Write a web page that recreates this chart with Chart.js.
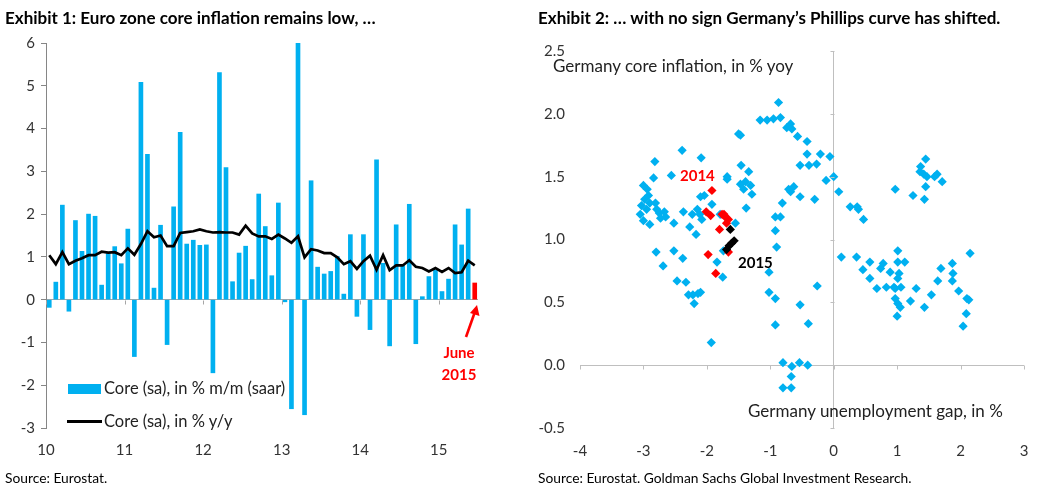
<!DOCTYPE html>
<html>
<head>
<meta charset="utf-8">
<script src="https://cdn.jsdelivr.net/npm/chart.js@4.4.1/dist/chart.umd.min.js"></script>
<style>
html,body{margin:0;padding:0;background:#fff;width:1048px;height:502px;overflow:hidden;font-family:Lato,"Open Sans",sans-serif;color:#000}
.abs{position:absolute;white-space:nowrap;line-height:1}
.title{font-weight:bold;font-size:17px}
.src{font-size:13.8px}
.lgt{font-size:16.5px;color:#222}
.axt{font-size:17px;color:#222}
#w1{position:absolute;left:0;top:0;width:520px;height:502px}
#w2{position:absolute;left:520px;top:0;width:528px;height:502px}
</style>
</head>
<body>
<div id="w1"><canvas id="c1" width="520" height="502"></canvas></div>
<div id="w2"><canvas id="c2" width="528" height="502"></canvas></div>

<div class="abs title" style="left:5px;top:9px">Exhibit 1: Euro zone core inflation remains low, …</div>
<div class="abs title" style="left:538px;top:9px">Exhibit 2: … with no sign Germany’s Phillips curve has shifted.</div>
<div class="abs src" style="left:5px;top:471px">Source: Eurostat.</div>
<div class="abs src" style="left:538px;top:471px">Source: Eurostat. Goldman Sachs Global Investment Research.</div>

<!-- legend exhibit 1 -->
<div class="abs" style="left:68px;top:384px;width:33px;height:10px;background:#00B0F0"></div>
<div class="abs lgt" style="left:104px;top:380px">Core (sa), in % m/m (saar)</div>
<div class="abs" style="left:67px;top:420px;width:35px;height:3px;background:#000"></div>
<div class="abs lgt" style="left:104px;top:413px">Core (sa), in % y/y</div>

<!-- June 2015 annotation -->
<div class="abs" style="left:436px;top:341px;font-size:15px;font-weight:bold;color:#FF0000;text-align:center;width:46px;line-height:22px">June<br>2015</div>
<svg class="abs" style="left:0;top:0" width="520" height="502">
  <line x1="466" y1="337" x2="474.5" y2="313" stroke="#FF0000" stroke-width="2.6"/>
  <polygon points="477,305 479.5,316 470,313" fill="#FF0000"/>
</svg>

<!-- exhibit 2 text -->
<div class="abs axt" style="left:553px;top:57px">Germany core inflation, in % yoy</div>
<div class="abs axt" style="left:748px;top:402px">Germany unemployment gap, in %</div>
<div class="abs" style="left:680px;top:168px;font-size:15px;font-weight:bold;color:#FF0000">2014</div>
<div class="abs" style="left:738px;top:255px;font-size:15px;font-weight:bold;color:#000">2015</div>

<script>
// ---------- Exhibit 1 data ----------
const startYear = 10;           // 2010
const monthsCount = 66;         // Jan 2010 .. Jun 2015
const yearTicks = [10, 11, 12, 13, 14, 15];
const coreMoM = [
  -0.18, 0.41, 2.21, -0.27, 1.85, 1.13, 2.00, 1.95, 0.34, 1.08, 1.24, 0.84,
  1.65, -1.33, 5.08, 3.40, 0.27, 1.74, -1.05, 2.17, 3.91, 1.30, 1.39, 1.27,
  1.28, -1.71, 5.31, 3.09, 0.42, 1.09, 1.25, 0.47, 2.47, 1.71, 0.56, 2.26,
  -0.05, -2.55, 6.02, -2.69, 2.78, 0.76, 0.60, 0.66, 1.01, 0.13, 1.52, -0.39,
  1.52, -0.70, 3.27, 0.85, -1.08, 1.75, 0.80, 2.23, -1.03, 0.07, 0.54, 0.69,
  0.19, 0.48, 1.75, 1.28, 2.12, 0.39
];
const coreYoY = [
  1.04, 0.83, 1.11, 0.83, 0.91, 0.97, 1.04, 1.04, 1.12, 1.10, 1.11, 1.04,
  1.20, 1.05, 1.30, 1.60, 1.46, 1.50, 1.25, 1.25, 1.56, 1.58, 1.60, 1.64,
  1.60, 1.57, 1.58, 1.57, 1.57, 1.52, 1.73, 1.55, 1.48, 1.48, 1.42, 1.52,
  1.43, 1.33, 1.48, 0.99, 1.18, 1.15, 1.09, 1.09, 0.99, 0.83, 0.90, 0.72,
  0.90, 1.03, 0.70, 1.04, 0.69, 0.80, 0.80, 0.92, 0.77, 0.74, 0.66, 0.74,
  0.65, 0.74, 0.62, 0.64, 0.91, 0.80
];

// ---------- Exhibit 2 data ----------
const gapHist = [
  -2.82,-2.39,-2.09,-2.84,-2.56,-3.00,-2.94,-2.92,-2.98,-2.90,-3.03,-2.95,-3.05,-3.00,-2.90,
  -2.81,-2.79,-2.75,-2.67,-2.65,-2.73,-2.52,-2.80,-2.69,-2.52,-2.38,
  -2.47,-2.33,-2.29,-2.22,-2.14,-2.10,-2.20,-1.93,
  -2.37,-2.23,-2.15,-2.11,-2.08,-2.27,-2.17,-2.10,-2.04,-1.92,-1.79,-1.68,
  -1.50,-1.47,-1.46,-1.34,-1.68,-1.47,-1.39,-1.42,-1.31,-1.29,-1.38,-1.55,-1.74,-1.84,-1.75,
  -0.87,-1.16,-1.05,-0.95,-0.84,-0.74,-0.68,-0.66,-0.57,-0.42,-0.42,-0.53,-0.39,-0.27,-0.21,-0.06,-0.12,0.00,0.08,
  -0.71,-0.63,-0.68,-0.53,-0.30,-0.81,-0.92,-0.84,-0.92,-0.90,-1.02,-1.02,-0.92,-0.53,-0.26,-0.92,-0.40,
  -0.80,-0.66,-0.54,-0.41,-0.67,-0.80,-0.67,
  0.12,0.36,0.46,0.57,0.57,0.68,0.74,0.78,
  0.89,0.83,0.95,1.01,1.01,1.12,1.03,1.01,1.06,0.97,0.97,1.01,1.05,1.00,
  1.21,1.30,1.43,1.54,1.64,1.69,1.87,1.88,1.87,1.97,2.10,2.13,2.09,2.04,2.15,
  0.97,1.25,1.45,1.37,1.36,1.42,1.47,1.59,1.63,1.71,1.45,1.43,
  0.26,0.37,0.39,0.47
];
const inflHist = [
  1.62,1.71,1.65,1.49,1.51,1.43,1.40,1.35,1.32,1.29,1.27,1.24,1.20,1.15,1.12,
  1.29,1.24,1.21,1.22,1.18,1.17,1.13,0.90,0.79,0.91,0.85,
  0.67,0.66,0.56,0.56,0.57,0.58,0.49,0.18,
  1.22,1.20,1.24,1.20,1.16,1.10,1.04,1.34,1.35,1.28,1.20,1.50,
  1.84,1.83,1.59,1.54,1.48,1.44,1.46,1.40,1.43,1.36,1.25,1.13,0.91,0.82,0.70,
  2.09,1.95,1.95,1.96,1.97,1.89,1.92,1.88,1.82,1.78,1.68,1.59,1.59,1.60,1.68,1.66,1.47,1.50,1.38,
  1.40,1.42,1.38,1.34,1.32,1.29,1.18,1.18,1.07,0.94,0.74,0.58,0.53,0.48,0.63,0.32,0.33,
  0.02,-0.01,0.02,0.00,-0.09,-0.18,-0.18,
  0.86,0.86,0.76,0.82,0.69,0.61,0.77,0.81,
  0.74,0.62,0.62,0.91,0.82,0.82,0.73,0.69,0.62,0.61,0.53,0.49,0.46,0.39,
  0.51,0.61,0.46,0.56,0.67,0.77,0.81,0.73,0.67,0.59,0.53,0.52,0.41,0.31,0.89,
  1.40,1.35,1.64,1.58,1.54,1.52,1.50,1.50,1.52,1.46,1.42,1.32,
  1.26,1.26,1.24,1.16
];
const gap2014  = [-1.92,-2.01,-1.94,-1.76,-1.73,-1.71,-1.66,-1.80,-1.98,-1.86,-1.66,-1.69];
const infl2014 = [ 1.39, 1.22, 1.19, 1.20, 1.20, 1.18, 1.16, 1.08, 0.88, 0.73, 0.90, 1.13];
const gap2015  = [-1.63,-1.69,-1.65,-1.61,-1.57];
const infl2015 = [ 1.08, 0.92, 0.95, 0.97, 0.99];

// ---------- helpers ----------
const BLUE = '#00B0F0';
const tickFont = {family: 'Lato', size: 15};
const monthX = i => startYear + (i + 0.5) / 12;
const momPts = coreMoM.map((v, i) => ({x: monthX(i), y: v}));
const yoyPts = coreYoY.map((v, i) => ({x: monthX(i), y: v}));
const barColors = coreMoM.map((v, i) => i === monthsCount - 1 ? '#FF0000' : BLUE);
const pts = (xs, ys) => xs.map((x, i) => ({x, y: ys[i]}));

// small tick marks where the axes cross at zero
const crossTicks = {
  id: 'crossTicks',
  afterDraw(chart, args, opts) {
    const ctx = chart.ctx, xs = chart.scales.x, ys = chart.scales.y;
    ctx.save();
    ctx.strokeStyle = opts.color || '#A6A6A6';
    ctx.lineWidth = 1;
    const y0 = Math.round(ys.getPixelForValue(0)) + 0.5;
    (opts.xValues || []).forEach(v => {
      const px = Math.round(xs.getPixelForValue(v)) + 0.5;
      ctx.beginPath(); ctx.moveTo(px, y0); ctx.lineTo(px, y0 + 4); ctx.stroke();
    });
    if (opts.yValues) {
      const x0 = Math.round(xs.getPixelForValue(0)) + 0.5;
      opts.yValues.forEach(v => {
        const py = Math.round(ys.getPixelForValue(v)) + 0.5;
        ctx.beginPath(); ctx.moveTo(x0 - 4, py); ctx.lineTo(x0, py); ctx.stroke();
      });
    }
    ctx.restore();
  }
};

// ---------- Exhibit 1 chart ----------
new Chart(document.getElementById('c1'), {
  type: 'bar',
  data: {
    datasets: [
      {type: 'line', label: 'Core (sa), in % y/y', data: yoyPts, borderColor: '#000', borderWidth: 2.7,
       pointRadius: 0, tension: 0, borderJoinStyle: 'miter'},
      {type: 'bar', label: 'Core (sa), in % m/m (saar)', data: momPts, backgroundColor: barColors,
       barThickness: 4, borderWidth: 0}
    ]
  },
  options: {
    responsive: false, animation: false, devicePixelRatio: 1,
    layout: {padding: {top: 43, right: 42, bottom: 0, left: 0}},
    plugins: {legend: {display: false}, tooltip: {enabled: false},
              crossTicks: {xValues: yearTicks, color: '#A6A6A6'}},
    scales: {
      x: {
        type: 'linear', min: 10, max: 15.5, offset: false,
        afterFit: s => { s.height = 74; },
        afterBuildTicks: s => { s.ticks = yearTicks.map(v => ({value: v})); },
        ticks: {font: tickFont, color: '#333', padding: 13, maxRotation: 0, autoSkip: false,
                callback: v => String(v)},
        grid: {display: false, drawTicks: false},
        border: {display: false}
      },
      y: {
        min: -3, max: 6,
        afterFit: s => { s.width = 46; },
        ticks: {stepSize: 1, font: tickFont, color: '#333', padding: 6},
        grid: {color: c => c.tick && c.tick.value === 0 ? '#A6A6A6' : 'rgba(0,0,0,0)',
               tickColor: '#868686', tickLength: 5, lineWidth: 1},
        border: {display: true, color: '#868686'}
      }
    }
  },
  plugins: [crossTicks]
});

// ---------- Exhibit 2 chart ----------
const diamond = {pointStyle: 'rectRot', pointRadius: 4.6, pointBorderWidth: 0, showLine: false};
new Chart(document.getElementById('c2'), {
  type: 'scatter',
  data: {
    datasets: [
      Object.assign({label: '2015', data: pts(gap2015, infl2015), backgroundColor: '#000', pointBackgroundColor: '#000'}, diamond),
      Object.assign({label: '2014', data: pts(gap2014, infl2014), backgroundColor: '#FF0000', pointBackgroundColor: '#FF0000'}, diamond),
      Object.assign({label: 'History', data: pts(gapHist, inflHist), backgroundColor: BLUE, pointBackgroundColor: BLUE}, diamond)
    ]
  },
  options: {
    responsive: false, animation: false, devicePixelRatio: 1,
    layout: {padding: {top: 51, right: 24, bottom: 0, left: 0}},
    plugins: {legend: {display: false}, tooltip: {enabled: false},
              crossTicks: {xValues: [-4, -3, -2, -1, 0, 1, 2, 3],
                           yValues: [-0.5, 0, 0.5, 1, 1.5, 2, 2.5], color: '#BFBFBF'}},
    scales: {
      x: {
        type: 'linear', min: -4, max: 3,
        afterFit: s => { s.height = 74; },
        ticks: {stepSize: 1, font: tickFont, color: '#333', padding: 14, maxRotation: 0},
        grid: {color: c => c.tick && c.tick.value === 0 ? '#BFBFBF' : 'rgba(0,0,0,0)', drawTicks: false},
        border: {display: false}
      },
      y: {
        type: 'linear', min: -0.5, max: 2.5,
        afterFit: s => { s.width = 60; },
        ticks: {stepSize: 0.5, font: tickFont, color: '#333', padding: 15, callback: v => v.toFixed(1)},
        grid: {color: c => c.tick && c.tick.value === 0 ? '#BFBFBF' : 'rgba(0,0,0,0)', drawTicks: false},
        border: {display: false}
      }
    }
  },
  plugins: [crossTicks]
});
</script>
</body>
</html>
